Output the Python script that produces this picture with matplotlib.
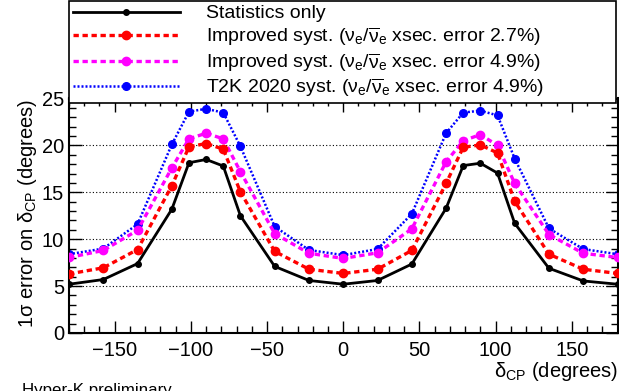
import matplotlib
matplotlib.use("Agg")
import matplotlib.pyplot as plt
from matplotlib.ticker import MultipleLocator

plt.rcParams['font.family'] = ['Liberation Sans', 'DejaVu Sans']
plt.rcParams['mathtext.fontset'] = 'custom'
plt.rcParams['mathtext.rm'] = 'Liberation Sans'
plt.rcParams['mathtext.it'] = 'Liberation Sans:italic'

delta_cp = [-180, -157.5, -135, -112.5, -101.25, -90, -78.75, -67.5, -45, -22.5, 0,
            22.5, 45, 67.5, 78.75, 90, 101.25, 112.5, 135, 157.5, 180]
stat_only = [5.2, 5.7, 7.4, 13.2, 18.15, 18.5, 17.8, 12.5, 7.1, 5.6, 5.2,
             5.6, 7.35, 13.3, 17.85, 18.1, 17.05, 11.7, 6.9, 5.55, 5.2]
impr_27 = [6.3, 6.95, 8.9, 15.7, 19.85, 20.2, 19.6, 15.05, 8.7, 6.8, 6.35,
           6.8, 8.8, 15.95, 19.8, 20.05, 19.2, 14.05, 8.4, 6.8, 6.35]
impr_49 = [8.05, 8.8, 10.95, 17.6, 20.7, 21.3, 20.7, 17.2, 10.6, 8.5, 7.95,
           8.55, 11.1, 18.25, 20.5, 21.15, 20.0, 15.95, 10.5, 8.5, 8.05]
t2k_2020 = [8.4, 9.0, 11.6, 20.1, 23.6, 23.9, 23.5, 19.9, 11.35, 8.85, 8.3,
            8.95, 12.7, 21.3, 23.5, 23.7, 23.2, 18.6, 11.15, 8.95, 8.4]

labels = [
    "Statistics only",
    r"Improved syst. ($\mathregular{\nu_e/\overline{\nu}_e}$ xsec. error 2.7%)",
    r"Improved syst. ($\mathregular{\nu_e/\overline{\nu}_e}$ xsec. error 4.9%)",
    r"T2K 2020 syst. ($\mathregular{\nu_e/\overline{\nu}_e}$ xsec. error 4.9%)",
]

W, H = 619, 391
fig = plt.figure(figsize=(W / 100, H / 100), dpi=100)
ax = fig.add_axes([69 / W, 1 - 333 / H, (617.5 - 69) / W, (333 - 98.5) / H])

ax.plot(delta_cp, stat_only, color='black', lw=2.0, marker='o', ms=4, label=labels[0], zorder=5)
ax.plot(delta_cp, impr_27, color='red', lw=2.4, ls=(0, (1.6, 1.1)), marker='o', ms=6, label=labels[1], zorder=4)
ax.plot(delta_cp, impr_49, color='magenta', lw=2.4, ls=(0, (1.6, 1.1)), marker='o', ms=6, label=labels[2], zorder=3)
ax.plot(delta_cp, t2k_2020, color='blue', lw=1.8, ls=(0, (0.8, 0.8)), marker='o', ms=5.5, label=labels[3], zorder=2)

ax.set_xlim(-180, 180)
ax.set_ylim(0, 25)
ax.xaxis.set_major_locator(MultipleLocator(50))
ax.xaxis.set_minor_locator(MultipleLocator(10))
ax.yaxis.set_major_locator(MultipleLocator(5))
ax.yaxis.set_minor_locator(MultipleLocator(1))
ax.tick_params(which='both', direction='in', top=True, right=True, labelsize=14.5, width=1)
ax.tick_params(which='major', length=9)
ax.tick_params(which='minor', length=5)
ax.tick_params(axis='x', pad=6)
for s in ax.spines.values():
    s.set_linewidth(1.5)
for yv in [5, 10, 15, 20]:
    ax.axhline(yv, color='black', lw=0.8, ls=(0, (1, 2)), zorder=1)

ax.set_xlabel(r"$\mathregular{\delta_{CP}}$ (degrees)", fontsize=14.5, loc='right', labelpad=0)
ax.set_ylabel(r"1σ error on $\mathregular{\delta_{CP}}$ (degrees)", fontsize=14.5, loc='top', labelpad=2)

leg = fig.legend(loc='upper left', bbox_to_anchor=(69 / W, 1 - 94 / H, (616 - 69) / W, 93 / H),
                 mode='expand', borderaxespad=0, fancybox=False, edgecolor='black', framealpha=1,
                 fontsize=14, handlelength=5.5, handletextpad=1.35, labelspacing=0.14,
                 borderpad=0.2, frameon=True)
leg.get_frame().set_linewidth(1.2)

fig.text(22 / W, (H - 395) / H, "Hyper-K preliminary", fontsize=12.2, va='baseline', ha='left')

fig.savefig("out.png", dpi=100)
